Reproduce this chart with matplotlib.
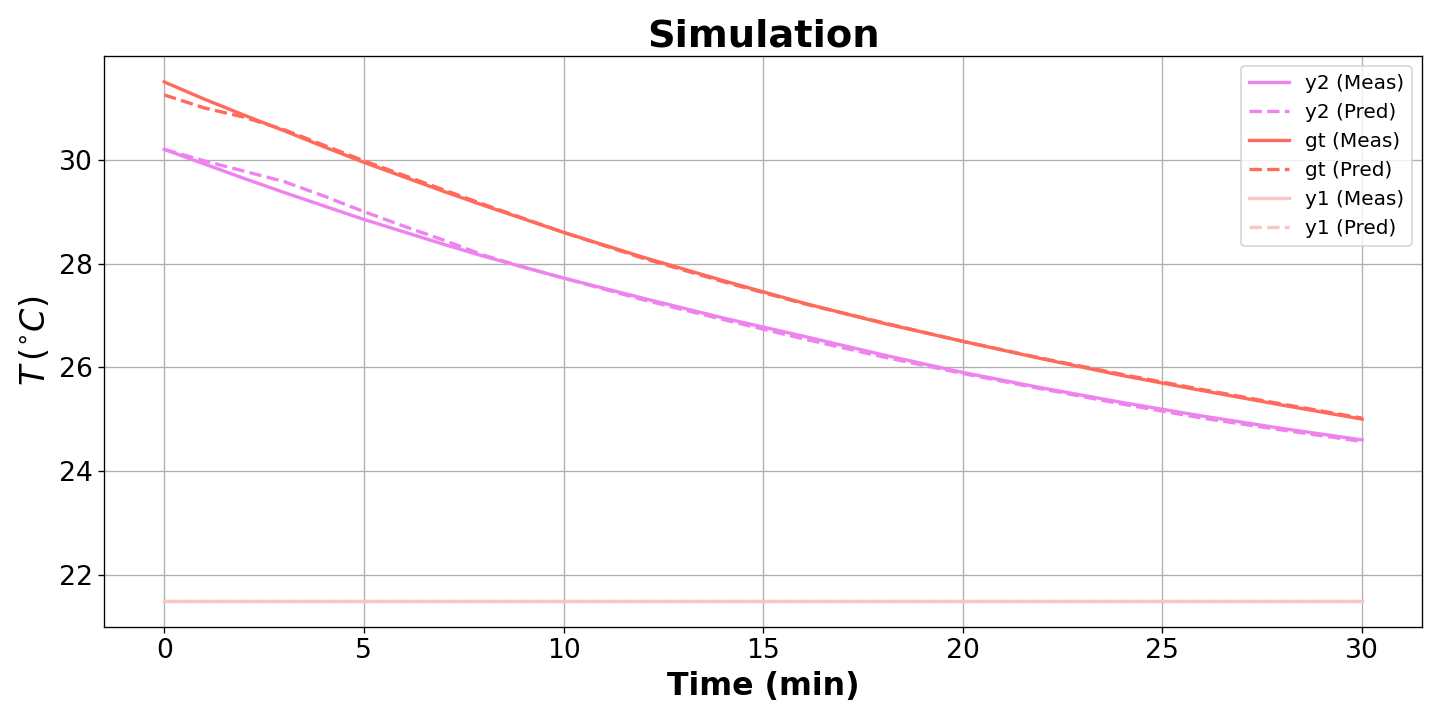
import matplotlib.pyplot as plt

# values
time = [0, 1, 2, 3, 4, 5, 6, 7, 8, 9, 10, 12, 14, 16, 18, 20, 22, 24, 26, 28, 30]
gt_meas = [31.5, 31.17, 30.86, 30.56, 30.25, 29.95, 29.67, 29.39, 29.12, 28.86, 28.6,
           28.12, 27.67, 27.24, 26.85, 26.5, 26.16, 25.84, 25.55, 25.27, 25.0]
gt_pred = [31.25, 31.0, 30.82, 30.58, 30.28, 29.98, 29.7, 29.42, 29.14, 28.87, 28.6,
           28.1, 27.65, 27.23, 26.86, 26.5, 26.17, 25.86, 25.57, 25.29, 25.02]
y2_meas = [30.2, 29.92, 29.64, 29.37, 29.11, 28.85, 28.61, 28.37, 28.14, 27.93, 27.72,
           27.33, 26.95, 26.6, 26.24, 25.9, 25.6, 25.32, 25.06, 24.82, 24.6]
y2_pred = [30.2, 29.98, 29.78, 29.58, 29.3, 29.0, 28.72, 28.45, 28.16, 27.93, 27.72,
           27.3, 26.92, 26.55, 26.2, 25.88, 25.58, 25.29, 25.02, 24.79, 24.57]
y1_meas = [21.5] * len(time)
y1_pred = [21.5] * len(time)

fig, ax = plt.subplots(figsize=(12, 6), dpi=120)
ax.plot(time, y2_meas, color='violet', lw=2, label='y2 (Meas)')
ax.plot(time, y2_pred, color='violet', lw=2, ls='--', label='y2 (Pred)')
ax.plot(time, gt_meas, color='#ff6a5c', lw=2, label='gt (Meas)')
ax.plot(time, gt_pred, color='#ff6a5c', lw=2, ls='--', label='gt (Pred)')
ax.plot(time, y1_meas, color='#f7c6c6', lw=2, label='y1 (Meas)')
ax.plot(time, y1_pred, color='#f7c6c6', lw=2, ls='--', label='y1 (Pred)')

ax.set_ylim(21.0, 32.0)
ax.set_yticks([22, 24, 26, 28, 30])
ax.grid(True)
ax.tick_params(labelsize=16)
ax.set_xlabel('Time (min)', fontsize=19, fontweight='bold')
ax.set_ylabel(r'$T\,(^{\circ}C)$', fontsize=20)
ax.set_title('Simulation', fontsize=23, fontweight='bold')
ax.legend(loc='upper right', fontsize=12)
fig.tight_layout()
fig.savefig('out.png')
